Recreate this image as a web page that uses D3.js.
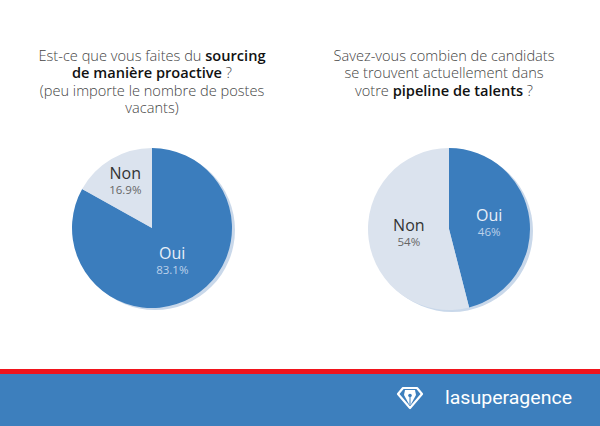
<!DOCTYPE html>
<html>
<head>
<meta charset="utf-8">
<script src="https://cdn.jsdelivr.net/npm/d3@7"></script>
<style>
  body { margin: 0; background: #fff; }
  svg { display: block; font-family: "Open Sans", sans-serif; }
</style>
</head>
<body>
<div id="chart"></div>
<script>
// data
var categories = ["Oui", "Non"];
var sourcingValues = [83.1, 16.9];
var pipelineValues = [46, 54];

// titles: each line is a list of [text, bold]
var sourcingTitle = [
  [["Est-ce que vous faites du ", false], ["sourcing", true]],
  [["de manière proactive", true], [" ?", false]],
  [["(peu importe le nombre de postes", false]],
  [["vacants)", false]]
];
var pipelineTitle = [
  [["Savez-vous combien de candidats", false]],
  [["se trouvent actuellement dans", false]],
  [["votre ", false], ["pipeline de talents", true], [" ?", false]]
];

var width = 600, height = 426;
var svg = d3.select("#chart").append("svg")
    .attr("width", width)
    .attr("height", height);

var color = d3.scaleOrdinal().domain(categories).range(["#3b7dbd", "#dbe3ee"]);
var nameColor = d3.scaleOrdinal().domain(categories).range(["#e8eff8", "#333333"]);
var pctColor = d3.scaleOrdinal().domain(categories).range(["#bcd1ea", "#666666"]);

// each piece of a line is its own text, laid side by side and centred
function drawTitle(lines, cx, y0){
    lines.forEach(function(line, i){
        var y = y0 + i * 17.3;
        var parts = line.map(function(part){
            return svg.append("text")
                .attr("y", y)
                .attr("xml:space", "preserve")
                .style("white-space", "pre")
                .style("font-size", "14.6px")
                .style("font-weight", part[1] ? 600 : 300)
                .style("fill", part[1] ? "#111" : "#444")
                .text(part[0]);
        });
        var widths = parts.map(function(p){ return p.node().getComputedTextLength(); });
        var x = cx - d3.sum(widths) / 2;
        parts.forEach(function(p, j){
            p.attr("x", x);
            x += widths[j];
        });
    });
}

function drawPie(values, cx, cy, r){
    var g = svg.append("g").attr("transform", "translate(" + cx + "," + cy + ")");
    var data = categories.map(function(c, i){ return {name: c, value: values[i]}; });
    var total = d3.sum(values);
    var pie = d3.pie().sort(null).value(function(d){ return d.value; });
    var arc = d3.arc().innerRadius(0).outerRadius(r);

    // soft shadow
    g.append("circle")
        .attr("cx", 3).attr("cy", 2).attr("r", r)
        .attr("fill", "#c9d8ea");

    var slices = pie(data);
    g.selectAll(".slice")
        .data(slices).enter()
        .append("path")
        .attr("class", "slice")
        .attr("d", arc)
        .attr("fill", function(d){ return color(d.data.name); });

    var labels = g.selectAll(".lbl")
        .data(slices).enter()
        .append("g")
        .attr("class", "lbl")
        .attr("transform", function(d){
            var frac = d.data.value / total;
            var lr = frac < 0.25 ? r * 0.66 : r * 0.5;
            var a = (d.startAngle + d.endAngle) / 2;
            return "translate(" + (Math.sin(a) * lr) + "," + (-Math.cos(a) * lr) + ")";
        });
    labels.append("text")
        .attr("text-anchor", "middle")
        .attr("y", -3)
        .style("font-size", "16px")
        .style("fill", function(d){ return nameColor(d.data.name); })
        .text(function(d){ return d.data.name; });
    labels.append("text")
        .attr("text-anchor", "middle")
        .attr("y", 12)
        .style("font-size", "11.5px")
        .style("fill", function(d){ return pctColor(d.data.name); })
        .text(function(d){ return d.data.value + "%"; });
}

drawTitle(sourcingTitle, 152, 61);
drawTitle(pipelineTitle, 444, 61);

drawPie(sourcingValues, 152, 228, 80);
drawPie(pipelineValues, 449, 229, 81);

// footer band
svg.append("rect").attr("x", 0).attr("y", 369).attr("width", width).attr("height", 6).attr("fill", "#f0141c");
svg.append("rect").attr("x", 0).attr("y", 374).attr("width", width).attr("height", 52).attr("fill", "#3d7fbd");

// logo
var logo = svg.append("g").attr("transform", "translate(410,398)");
logo.append("path")
    .attr("d", "M-7,-10 L7,-10 L12,-4 L0,10 L-12,-4 Z")
    .attr("fill", "none")
    .attr("stroke", "#fff")
    .attr("stroke-width", 2.2)
    .attr("stroke-linejoin", "round");
logo.append("path")
    .attr("d", "M-5,-8 L5,-8 L6,-3 L0,8 L-6,-3 Z")
    .attr("fill", "#fff");
logo.append("circle").attr("cx", 0).attr("cy", -2.5).attr("r", 1.8).attr("fill", "#3d7fbd");
logo.append("line").attr("x1", 0).attr("y1", -1).attr("x2", 0).attr("y2", 8)
    .attr("stroke", "#3d7fbd").attr("stroke-width", 1);

svg.append("text")
    .attr("x", 445)
    .attr("y", 404)
    .attr("textLength", 127)
    .attr("lengthAdjust", "spacingAndGlyphs")
    .style("font-family", "Roboto, sans-serif")
    .style("font-size", "18px")
    .style("fill", "#fff")
    .text("lasuperagence");
</script>
</body>
</html>
